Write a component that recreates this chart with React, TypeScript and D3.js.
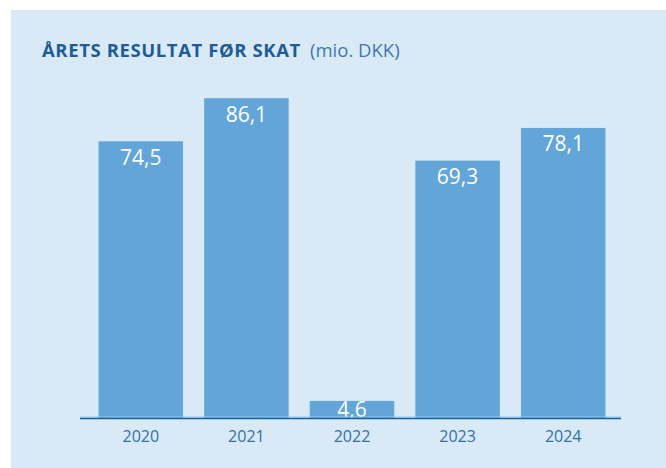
import React from "react";
import * as d3 from "d3";

const years = ["2020", "2021", "2022", "2023", "2024"];
const values = [74.5, 86.1, 4.6, 69.3, 78.1];
const valueLabels = ["74,5", "86,1", "4,6", "69,3", "78,1"];
const titleBold = "ÅRETS RESULTAT FØR SKAT";
const titleUnit = "(mio. DKK)";

const W = 666;
const H = 468;
const baseY = 418;

export default function App() {
  const x = d3.scaleBand<string>().domain(years).range([88, 616]).paddingInner(0.2).paddingOuter(0.1);
  const y = d3.scaleLinear().domain([0, 100]).range([baseY, 46.6]);
  const font = "'Open Sans', 'Noto Sans', sans-serif";
  return (
    <svg width={W} height={H} style={{ position: "absolute", left: 0, top: 0 }}>
      <rect x={11} y={10} width={W - 11} height={H - 10} fill="#d9e9f5" />
      <text x={42} y={56.5} fontFamily={font} fontSize={18.5} fontWeight="bold" letterSpacing={0.6} fill="#1a5d9a">
        {titleBold}
      </text>
      <text x={310} y={56.5} fontFamily={font} fontSize={18.5} fill="#3b7ab3">
        {titleUnit}
      </text>
      {years.map((yr, i) => {
        const top = y(values[i]);
        const bx = x(yr)!;
        const labelY = Math.min(top + 23.5, baseY - 1);
        return (
          <g key={yr}>
            <rect x={bx} y={top} width={x.bandwidth()} height={baseY - top} fill="#62a5d8" />
            <text x={bx + x.bandwidth() / 2} y={labelY} textAnchor="middle" fontFamily={font} fontSize={21} fill="#ffffff">
              {valueLabels[i]}
            </text>
            <text x={bx + x.bandwidth() / 2} y={442.3} textAnchor="middle" fontFamily={font} fontSize={16} fill="#2e72ad">
              {yr}
            </text>
          </g>
        );
      })}
      <line x1={80} x2={621} y1={417} y2={417} stroke="#9fc6e6" strokeWidth={1} />
      <line x1={80} x2={621} y1={418.5} y2={418.5} stroke="#0f63a5" strokeWidth={1.6} />
    </svg>
  );
}
